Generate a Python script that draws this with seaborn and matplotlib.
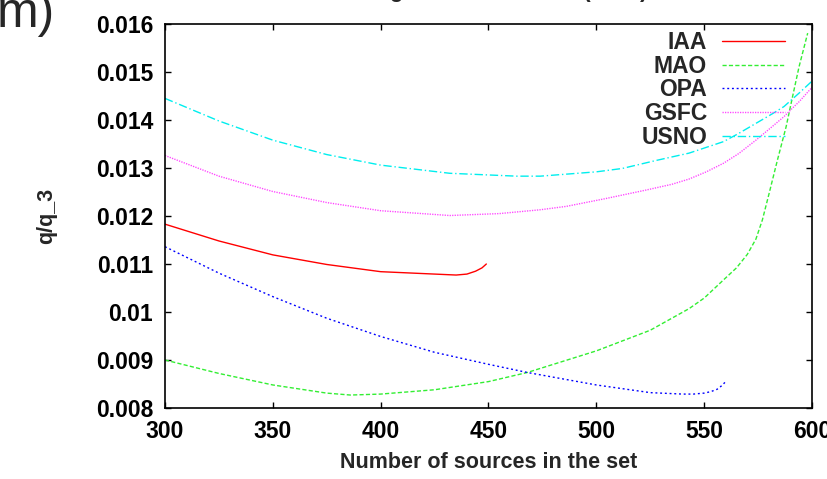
import matplotlib
matplotlib.use("Agg")
import matplotlib.pyplot as plt
import pandas as pd
import seaborn as sns

CENTERS = ["IAA", "MAO", "OPA", "GSFC", "USNO"]

iaa_n = [300, 325, 350, 375, 400, 425, 435, 440, 444, 447, 449]
iaa_q = [0.01183, 0.01148, 0.01119, 0.01099, 0.01084, 0.01079, 0.01077, 0.01079, 0.01085,
         0.01092, 0.01100]

mao_n = [300, 325, 350, 375, 386, 400, 425, 450, 468, 500, 525, 543, 550, 559, 565, 570,
         574, 577, 580, 584, 588, 591, 594, 598]
mao_q = [0.00900, 0.00872, 0.00848, 0.00831, 0.00827, 0.00829, 0.00838, 0.00855, 0.00874,
         0.00919, 0.00962, 0.01007, 0.01029, 0.01067, 0.01092, 0.01120, 0.01152, 0.01192,
         0.01245, 0.01317, 0.01386, 0.01449, 0.01511, 0.01581]

opa_n = [300, 325, 350, 375, 400, 425, 450, 468, 500, 525, 540, 545, 550, 553, 556, 558, 560]
opa_q = [0.01136, 0.01081, 0.01032, 0.00987, 0.00949, 0.00916, 0.00891, 0.00874, 0.00848,
         0.00832, 0.00829, 0.00829, 0.00831, 0.00834, 0.00839, 0.00846, 0.00855]

gsfc_n = [300, 325, 350, 375, 400, 432, 455, 474, 486, 504, 523, 535, 543, 551, 559, 566,
          574, 582, 587, 591, 594, 600]
gsfc_q = [0.01326, 0.01283, 0.01251, 0.01228, 0.01211, 0.01201, 0.01205, 0.01213, 0.01220,
          0.01236, 0.01254, 0.01266, 0.01277, 0.01292, 0.01310, 0.01330, 0.01358, 0.01388,
          0.01407, 0.01425, 0.01438, 0.01468]

usno_n = [300, 325, 350, 375, 400, 432, 463, 474, 500, 512, 528, 543, 549, 559, 566, 574,
          582, 587, 594, 600]
usno_q = [0.01445, 0.01398, 0.01358, 0.01328, 0.01306, 0.01289, 0.01283, 0.01283, 0.01292,
          0.01299, 0.01316, 0.01331, 0.01340, 0.01355, 0.01372, 0.01393, 0.01414, 0.01428,
          0.01456, 0.01481]

x_ticks = [300, 350, 400, 450, 500, 550, 600]
y_ticks = [0.008, 0.009, 0.010, 0.011, 0.012, 0.013, 0.014, 0.015, 0.016]
y_tick_labels = ["0.008", "0.009", "0.01", "0.011", "0.012", "0.013", "0.014", "0.015", "0.016"]

COLORS = {"IAA": "#ff0000", "MAO": "#33ee33", "OPA": "#0000ff", "GSFC": "#ff44ff", "USNO": "#00eeee"}
DASHES = {"IAA": "", "MAO": (3, 1.6), "OPA": (1.4, 2), "GSFC": (0.9, 0.9), "USNO": (6, 2, 1, 2)}


def main():
    series = {"IAA": (iaa_n, iaa_q), "MAO": (mao_n, mao_q), "OPA": (opa_n, opa_q),
              "GSFC": (gsfc_n, gsfc_q), "USNO": (usno_n, usno_q)}
    df = pd.concat(
        [pd.DataFrame({"n": n, "q": q, "center": name}) for name, (n, q) in series.items()],
        ignore_index=True,
    )

    sns.set_theme(style="ticks")
    plt.rcParams["font.family"] = ["Liberation Sans", "DejaVu Sans"]
    plt.rcParams["font.weight"] = "bold"

    fig = plt.figure(figsize=(8.28, 4.79), dpi=100)
    ax = fig.add_axes([165 / 828, 1 - 408 / 479, 647 / 828, 384 / 479])

    sns.lineplot(data=df, x="n", y="q", hue="center", style="center", hue_order=CENTERS,
                 style_order=CENTERS, palette=COLORS, dashes=DASHES, linewidth=1.0,
                 errorbar=None, legend=False, ax=ax)

    ax.set_xlim(300, 600)
    ax.set_ylim(0.008, 0.016)
    ax.set_xticks(x_ticks)
    ax.set_xticklabels([str(t) for t in x_ticks])
    ax.set_yticks(y_ticks)
    ax.set_yticklabels(y_tick_labels)
    ax.tick_params(direction="in", top=True, right=True, length=4.5, width=1,
                   labelsize=16.5, pad=8.5, colors="black")
    for sp in ax.spines.values():
        sp.set_visible(True)
        sp.set_color("black")
        sp.set_linewidth(1.2)

    ax.set_xlabel("Number of sources in the set", fontsize=15.5, fontweight="bold")
    ax.set_ylabel("q/q_3", fontsize=15.5, fontweight="bold")
    ax.xaxis.set_label_coords(0.5, -0.115)
    ax.yaxis.set_label_coords(-0.167, 0.5)

    handles = ax.get_lines()[:len(CENTERS)]
    ax.legend(handles, CENTERS, loc="upper right", bbox_to_anchor=(785 / 828, 1 - 31 / 479),
              bbox_transform=fig.transFigure, frameon=False, markerfirst=False,
              fontsize=16.5, handlelength=2.75, handletextpad=0.65, labelspacing=0.03,
              borderpad=0, borderaxespad=0)

    fig.text(648 / 828, 1 + 2.5 / 479, "Ranking of the whole set (2009)", ha="right",
             va="baseline", fontsize=16, fontweight="bold")
    fig.text(-0.004, 1 - 27 / 479, "m)", ha="left", va="baseline", fontsize=36,
             fontweight="normal")

    fig.savefig("out.png", dpi=100)
    plt.close(fig)


if __name__ == "__main__":
    main()
